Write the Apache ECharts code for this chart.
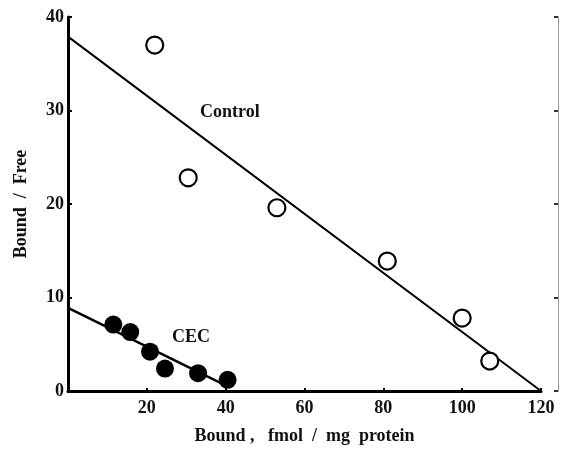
<!DOCTYPE html>
<html>
<head>
<meta charset="utf-8">
<script src="https://cdn.jsdelivr.net/npm/echarts@6/dist/echarts.min.js"></script>
<style>
  html, body { margin: 0; padding: 0; background: #fff; }
  #chart { width: 563px; height: 450px; }
</style>
</head>
<body>
<div id="chart"></div>
<script>
// Scatchard plot: Bound/Free vs Bound
const controlPoints = [[22, 37], [30.5, 22.8], [53, 19.6], [81, 13.9], [100, 7.8], [107, 3.2]]
const cecPoints = [[11.5, 7.1], [15.8, 6.3], [20.8, 4.2], [24.6, 2.4], [33, 1.9], [40.5, 1.2]]
const controlFit = [[0, 37.9], [120, 0]]
const cecFit = [[0, 8.9], [41, 0.4]]
const xTicks = [20, 40, 60, 80, 100, 120]
const yTicks = [0, 10, 20, 30, 40]

const font = '"Liberation Serif", "DejaVu Serif", serif'

const chart = echarts.init(document.getElementById('chart'))
const option = {
  backgroundColor: '#fff',
  animation: false,
  grid: { left: 68, right: 22, top: 17, bottom: 59 },
  xAxis: {
    type: 'value', min: 0, max: 120, interval: 20,
    name: 'Bound ,   fmol  /  mg  protein',
    nameLocation: 'middle', nameGap: 36,
    nameTextStyle: { fontFamily: font, fontWeight: 'bold', fontSize: 18, color: '#111' },
    axisLine: { lineStyle: { color: '#000', width: 3 } },
    axisTick: { inside: true, length: 3, lineStyle: { color: '#000', width: 2 } },
    axisLabel: {
      fontFamily: font, fontWeight: 'bold', fontSize: 18, color: '#111', margin: 8,
      formatter: v => (xTicks.includes(v) ? String(v) : '')
    },
    splitLine: { show: false }
  },
  yAxis: [
    {
      type: 'value', min: 0, max: 40, interval: 10,
      name: 'Bound  /  Free',
      nameLocation: 'middle', nameGap: 38,
      nameTextStyle: { fontFamily: font, fontWeight: 'bold', fontSize: 18, color: '#111' },
      axisLine: { lineStyle: { color: '#000', width: 3 } },
      axisTick: { inside: true, length: 4, lineStyle: { color: '#000', width: 2 } },
      axisLabel: {
        fontFamily: font, fontWeight: 'bold', fontSize: 18, color: '#111', margin: 4,
        formatter: v => (yTicks.includes(v) ? String(v) : '')
      },
      splitLine: { show: false }
    },
    {
      type: 'value', min: 0, max: 40, interval: 10, position: 'right', offset: 17,
      axisLine: { show: true, lineStyle: { color: '#999', width: 1 } },
      axisTick: { show: true, inside: true, length: 4, lineStyle: { color: '#333', width: 2 } },
      axisLabel: { show: false },
      splitLine: { show: false }
    }
  ],
  series: [
    {
      type: 'line', data: controlFit, symbol: 'none',
      lineStyle: { color: '#000', width: 2 }, z: 2
    },
    {
      type: 'line', data: cecFit, symbol: 'none',
      lineStyle: { color: '#000', width: 2.5 }, z: 2
    },
    {
      type: 'scatter', data: controlPoints, symbol: 'circle', symbolSize: 17,
      itemStyle: { color: '#fff', borderColor: '#000', borderWidth: 2.2, opacity: 1 }, z: 3
    },
    {
      type: 'scatter', data: cecPoints, symbol: 'circle', symbolSize: 18,
      itemStyle: { color: '#000', opacity: 1 }, z: 3
    }
  ],
  graphic: [
    {
      type: 'text', left: 200, top: 103,
      style: { text: 'Control', font: 'bold 18px ' + font, fill: '#111' }
    },
    {
      type: 'text', left: 172, top: 328,
      style: { text: 'CEC', font: 'bold 18px ' + font, fill: '#111' }
    }
  ]
}
chart.setOption(option)
</script>
</body>
</html>
